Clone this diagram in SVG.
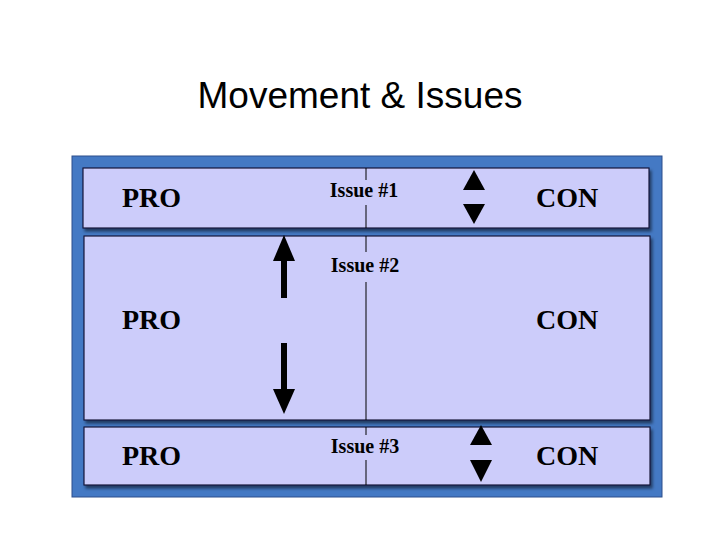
<svg xmlns="http://www.w3.org/2000/svg" width="720" height="540" viewBox="0 0 720 540">
<defs>
<filter id="sh" x="-5%" y="-5%" width="110%" height="120%"><feDropShadow dx="2" dy="3" stdDeviation="1.5" flood-color="#000" flood-opacity="0.5"/></filter>
</defs>
<style>
.p{fill:#ccccfa;stroke:#1a1a3a;stroke-width:1.2;filter:url(#sh)}
.b{font-family:"Liberation Serif",serif;font-weight:bold;font-size:28px;fill:#000}
.i{font-family:"Liberation Serif",serif;font-weight:bold;font-size:20px;fill:#000;text-anchor:middle}
.v{stroke:#000;stroke-width:1}
.t{fill:#000}
</style>
<rect width="720" height="540" fill="#fff"/>
<text x="360" y="108" text-anchor="middle" font-family="Liberation Sans,sans-serif" font-size="37">Movement &amp; Issues</text>
<rect x="72" y="156" width="590" height="341" fill="#4479c4" stroke="#2c4f8c" stroke-width="1"/>
<g id="panel1"><rect class="p" x="83" y="168" width="566" height="60"/>
<text class="b" x="122" y="207">PRO</text><text class="b" x="536" y="207">CON</text><text class="i" x="364" y="197">Issue #1</text>
<line class="v" x1="366" y1="168" x2="366" y2="180"/><line class="v" x1="366" y1="205" x2="366" y2="228"/></g>
<g id="panel2"><rect class="p" x="84" y="236" width="566" height="184"/>
<text class="b" x="122" y="329">PRO</text><text class="b" x="536" y="329">CON</text><text class="i" x="365" y="272">Issue #2</text>
<line class="v" x1="366" y1="236" x2="366" y2="252"/><line class="v" x1="366" y1="282" x2="366" y2="420"/></g>
<g id="panel3"><rect class="p" x="84" y="427" width="566" height="58"/>
<text class="b" x="122" y="465">PRO</text><text class="b" x="536" y="465">CON</text><text class="i" x="365" y="453">Issue #3</text>
<line class="v" x1="366" y1="427" x2="366" y2="435"/><line class="v" x1="366" y1="460" x2="366" y2="485"/></g>
<g id="connectors">
<polygon class="t" points="474,170 463,190 485,190"/><polygon class="t" points="463,204 485,204 474,224"/>
<rect class="t" x="281" y="258" width="6" height="40"/><polygon class="t" points="284,235 273,261 295,261"/>
<rect class="t" x="281" y="343" width="6" height="48"/><polygon class="t" points="273,389 295,389 284,414"/>
<polygon class="t" points="481,425 470,445 492,445"/><polygon class="t" points="470,460 492,460 481,482"/>
</g>
</svg>
